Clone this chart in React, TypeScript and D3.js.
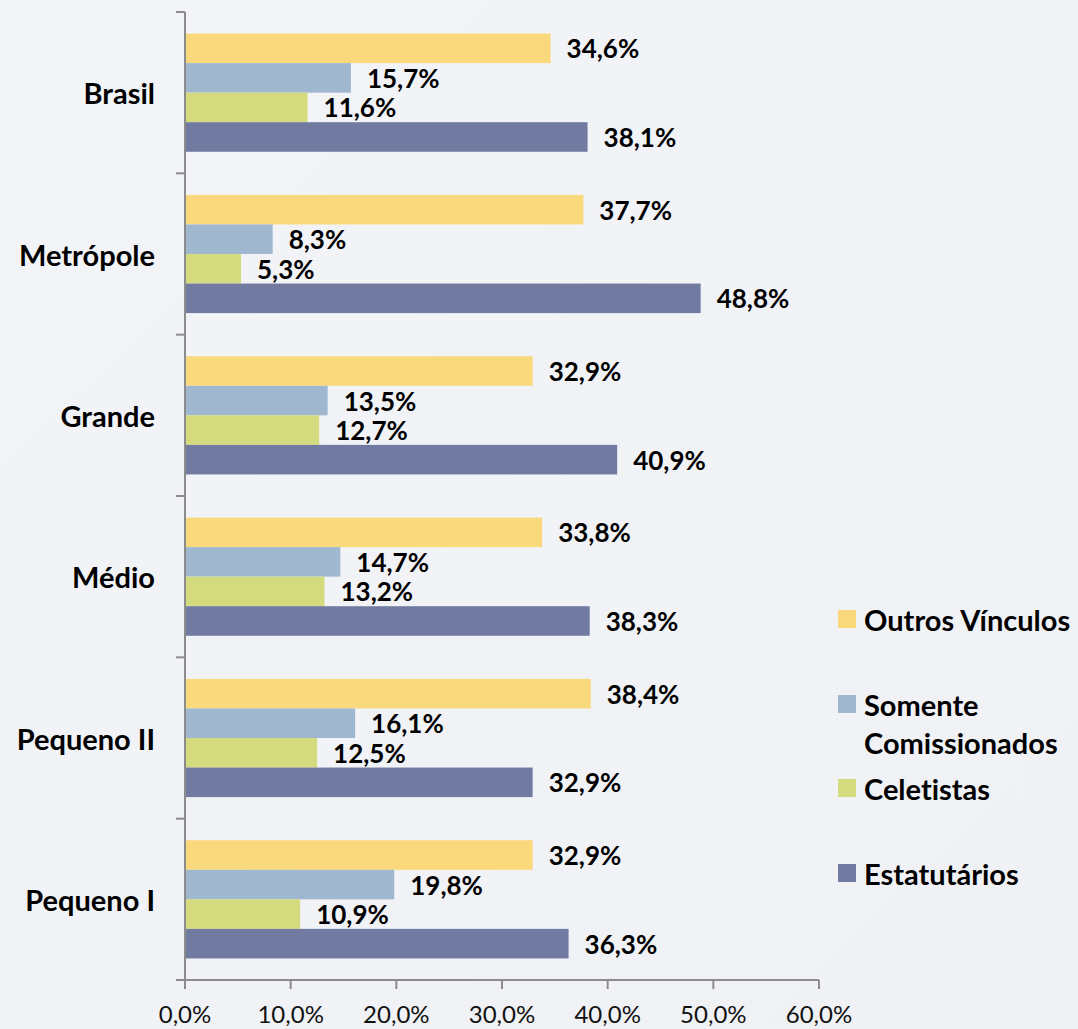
import * as d3 from "d3";

const WIDTH = 1078;
const HEIGHT = 1029;
const MARGIN = { top: 12, right: 259, bottom: 49, left: 185 };
const INNER_W = WIDTH - MARGIN.left - MARGIN.right;
const INNER_H = HEIGHT - MARGIN.top - MARGIN.bottom;

const FONT = "Lato, 'Open Sans', sans-serif";

// categories, top to bottom
const categories = ["Brasil", "Metrópole", "Grande", "Médio", "Pequeno II", "Pequeno I"];

// series, in the order drawn inside each group (top to bottom)
const seriesNames = ["Outros Vínculos", "Somente Comissionados", "Celetistas", "Estatutários"];
const seriesColors = ["#fad97c", "#a0b8cf", "#d4db7e", "#717aa1"];

const outros = [34.6, 37.7, 32.9, 33.8, 38.4, 32.9];
const somente = [15.7, 8.3, 13.5, 14.7, 16.1, 19.8];
const celetistas = [11.6, 5.3, 12.7, 13.2, 12.5, 10.9];
const estatutarios = [38.1, 48.8, 40.9, 38.3, 32.9, 36.3];
const seriesValues = [outros, somente, celetistas, estatutarios];

const xTicks = [0, 10, 20, 30, 40, 50, 60];

const fmt = (v: number) => v.toFixed(1).replace(".", ",") + "%";

export default function App() {
  const x = d3.scaleLinear().domain([0, 60]).range([0, INNER_W]);
  const y0 = d3.scaleBand().domain(categories).range([0, INNER_H]).padding(0);
  const y1 = d3
    .scaleBand()
    .domain(seriesNames)
    .range([0, y0.bandwidth()])
    .paddingInner(0)
    .paddingOuter(0.73);

  const groupEdges = categories.map((c) => y0(c)!).concat([INNER_H]);

  // legend rows: label lines and y centre of the first line
  const legend = [
    { lines: ["Outros Vínculos"], y: 619 },
    { lines: ["Somente", "Comissionados"], y: 704 },
    { lines: ["Celetistas"], y: 788 },
    { lines: ["Estatutários"], y: 873 },
  ];

  return (
    <svg
      width={WIDTH}
      height={HEIGHT}
      style={{
        position: "absolute",
        left: 0,
        top: 0,
        fontFamily: FONT,
        fontVariantLigatures: "none",
      }}>
      <defs>
        <linearGradient id="bg" x1="0" y1="0" x2="1" y2="1">
          <stop offset="0" stopColor="#f3f4f8" />
          <stop offset="1" stopColor="#eff1f5" />
        </linearGradient>
      </defs>
      <rect width={WIDTH} height={HEIGHT} fill="url(#bg)" />

      <g transform={`translate(${MARGIN.left},${MARGIN.top})`}>
        {/* bars + value labels */}
        {categories.map((c, ci) => (
          <g key={c} transform={`translate(0,${y0(c)})`}>
            {seriesNames.map((s, si) => {
              const v = seriesValues[si][ci];
              const yy = y1(s)!;
              const h = y1.bandwidth();
              return (
                <g key={s}>
                  <rect x={0} y={yy} width={x(v)} height={h} fill={seriesColors[si]} />
                  <text
                    x={x(v) + 16}
                    y={yy + h / 2}
                    dominantBaseline="central"
                    fontSize={26}
                    fontWeight={700}
                    fill="#000">
                    {fmt(v)}
                  </text>
                </g>
              );
            })}
          </g>
        ))}

        {/* y axis */}
        <line x1={0} x2={0} y1={0} y2={INNER_H} stroke="#8c8c8c" strokeWidth={2} />
        {groupEdges.map((e, i) => (
          <line key={i} x1={-9} x2={0} y1={e} y2={e} stroke="#8c8c8c" strokeWidth={2} />
        ))}
        {categories.map((c) => (
          <text
            key={c}
            x={-30}
            y={y0(c)! + y0.bandwidth() / 2}
            textAnchor="end"
            dominantBaseline="central"
            fontSize={29}
            fontWeight={700}
            fill="#000">
            {c}
          </text>
        ))}

        {/* x axis */}
        <line x1={0} x2={INNER_W} y1={INNER_H} y2={INNER_H} stroke="#8c8c8c" strokeWidth={2} />
        {xTicks.map((t) => (
          <g key={t}>
            <line
              x1={x(t)}
              x2={x(t)}
              y1={INNER_H}
              y2={INNER_H + 9}
              stroke="#8c8c8c"
              strokeWidth={2}
            />
            <text
              x={x(t)}
              y={INNER_H + 43}
              textAnchor="middle"
              fontSize={24}
              fill="#111">
              {t.toFixed(1).replace(".", ",") + "%"}
            </text>
          </g>
        ))}
      </g>

      {/* legend */}
      {legend.map((l, i) => (
        <g key={i}>
          <rect x={838} y={l.y - 9} width={18} height={18} fill={seriesColors[i]} />
          {l.lines.map((line, li) => (
            <text
              key={li}
              x={864}
              y={l.y + li * 38}
              dominantBaseline="central"
              fontSize={29}
              fontWeight={700}
              fill="#000">
              {line}
            </text>
          ))}
        </g>
      ))}
    </svg>
  );
}
